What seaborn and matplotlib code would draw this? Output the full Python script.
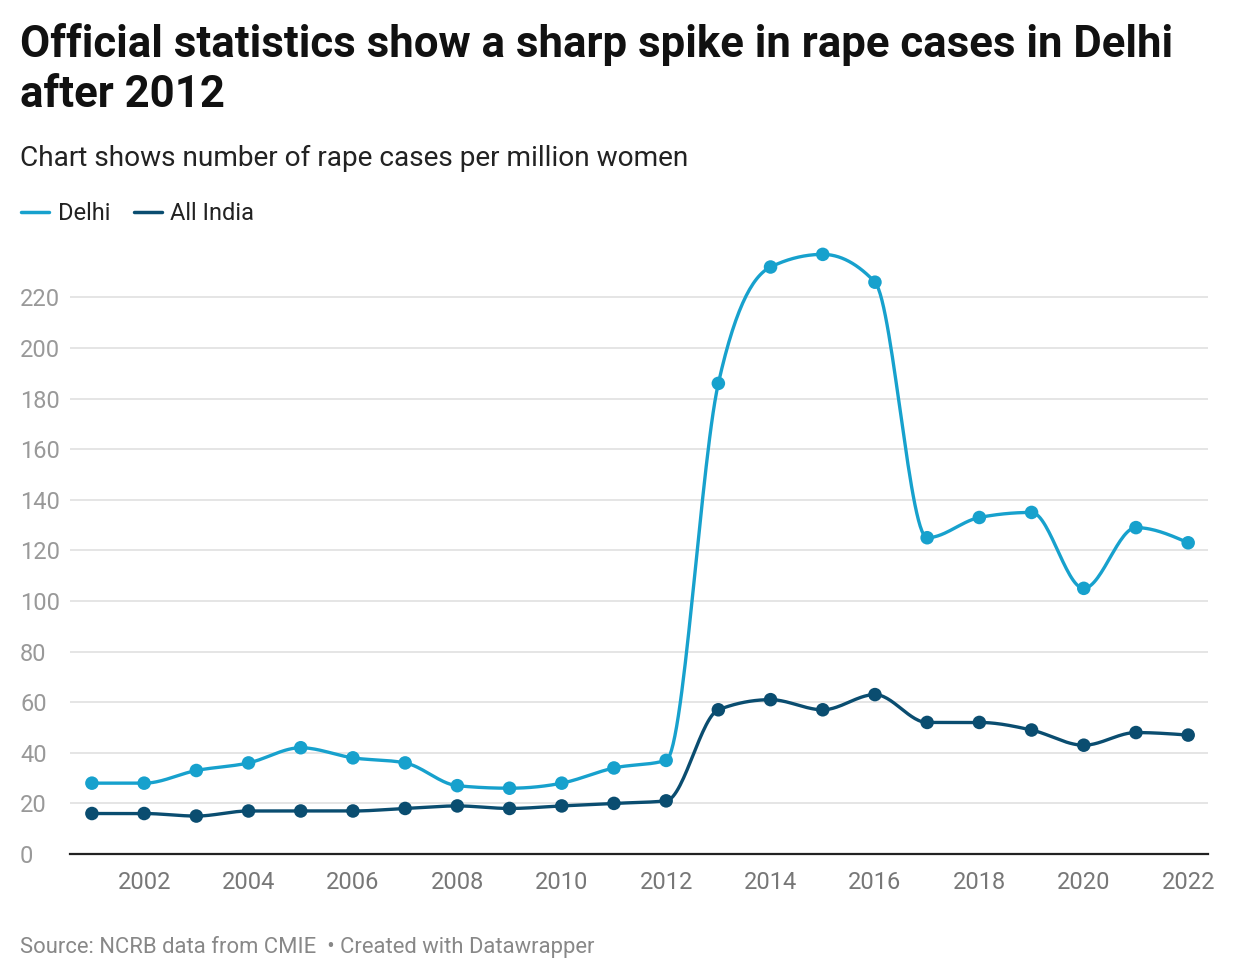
import numpy as np
import pandas as pd
import seaborn as sns
import matplotlib.pyplot as plt
from matplotlib.lines import Line2D

years = list(range(2001, 2023))
delhi = [28, 28, 33, 36, 42, 38, 36, 27, 26, 28, 34, 37,
         186, 232, 237, 226, 125, 133, 135, 105, 129, 123]
all_india = [16, 16, 15, 17, 17, 17, 18, 19, 18, 19, 20, 21,
             57, 61, 57, 63, 52, 52, 49, 43, 48, 47]
series_names = ["Delhi", "All India"]
colors = {"Delhi": "#17a1cd", "All India": "#0a4d70"}
y_ticks = [0, 20, 40, 60, 80, 100, 120, 140, 160, 180, 200, 220]
x_ticks = list(range(2002, 2023, 2))

title = "Official statistics show a sharp spike in rape cases in Delhi\nafter 2012"
subtitle = "Chart shows number of rape cases per million women"
source = "Source: NCRB data from CMIE  \u2022 Created with Datawrapper"

df = pd.DataFrame({"year": years * 2,
                   "value": delhi + all_india,
                   "series": ["Delhi"] * len(years) + ["All India"] * len(years)})


def monotone_curve(x, y, n=30):
    # same kind of smoothing as a d3 monotoneX line
    x = np.asarray(x, float)
    y = np.asarray(y, float)
    h = np.diff(x)
    s = np.diff(y) / h
    t = np.zeros(len(x))
    for i in range(1, len(x) - 1):
        p = (s[i - 1] * h[i] + s[i] * h[i - 1]) / (h[i - 1] + h[i])
        t[i] = (np.sign(s[i - 1]) + np.sign(s[i])) * min(abs(s[i - 1]), abs(s[i]), 0.5 * abs(p))
    t[0] = (3 * s[0] - t[1]) / 2
    t[-1] = (3 * s[-1] - t[-2]) / 2
    xs, ys = [], []
    for i in range(len(x) - 1):
        u = np.linspace(0, 1, n, endpoint=False)
        h00 = 2 * u**3 - 3 * u**2 + 1
        h10 = u**3 - 2 * u**2 + u
        h01 = -2 * u**3 + 3 * u**2
        h11 = u**3 - u**2
        xs.append(x[i] + u * h[i])
        ys.append(h00 * y[i] + h10 * h[i] * t[i] + h01 * y[i + 1] + h11 * h[i] * t[i + 1])
    xs.append([x[-1]])
    ys.append([y[-1]])
    return np.concatenate(xs), np.concatenate(ys)


sns.set_theme(style="white")
plt.rcParams["font.family"] = ["Roboto", "DejaVu Sans"]

fig = plt.figure(figsize=(12.4, 9.8), dpi=100)
ax = fig.add_axes([70 / 1240, 1 - 854 / 980, (1208 - 70) / 1240, (854 - 245) / 980])

for name in series_names:
    sub = df[df["series"] == name]
    cx, cy = monotone_curve(sub["year"], sub["value"])
    ax.plot(cx, cy, color=colors[name], lw=2.4, solid_capstyle="round", zorder=3)

sns.scatterplot(data=df, x="year", y="value", hue="series", palette=colors,
                s=95, edgecolor="none", legend=False, ax=ax, zorder=4)

ax.set_xlim(2000.58, 2022.38)
ax.set_ylim(0, 240.7)
ax.set_yticks(y_ticks)
ax.set_xticks(x_ticks)
ax.set_xticklabels([str(v) for v in x_ticks])
ax.set_xlabel("")
ax.set_ylabel("")
ax.grid(axis="y", color="#e3e3e3", lw=1.3)
ax.set_axisbelow(True)
for side in ["top", "right", "left"]:
    ax.spines[side].set_visible(False)
ax.spines["bottom"].set_color("#222222")
ax.spines["bottom"].set_linewidth(1.6)
ax.tick_params(axis="x", length=0, pad=12, labelsize=17, labelcolor="#777777")
ax.tick_params(axis="y", length=0, pad=36, labelsize=17, labelcolor="#999999")
for lab in ax.get_yticklabels():
    lab.set_horizontalalignment("left")

# title block
fig.text(20 / 1240, 1 - 45 / 980, title.split("\n")[0], ha="left", va="center",
         fontsize=31.5, fontweight="bold", color="#111111")
fig.text(20 / 1240, 1 - 95 / 980, title.split("\n")[1], ha="left", va="center",
         fontsize=31.5, fontweight="bold", color="#111111")
fig.text(20 / 1240, 1 - 158 / 980, subtitle, ha="left", va="center",
         fontsize=20.2, color="#222222")
fig.text(20 / 1240, 1 - 947 / 980, source, ha="left", va="center",
         fontsize=15.8, color="#888888")

handles = [Line2D([0], [0], color=colors[n], lw=2.5) for n in series_names]
fig.legend(handles, series_names, loc="center left", bbox_to_anchor=(21 / 1240, 1 - 214 / 980),
           ncol=2, frameon=False, fontsize=17, handlelength=1.2, handletextpad=0.35,
           columnspacing=1.0, borderpad=0, borderaxespad=0, labelcolor="#222222")

fig.savefig("out.png", dpi=100)
